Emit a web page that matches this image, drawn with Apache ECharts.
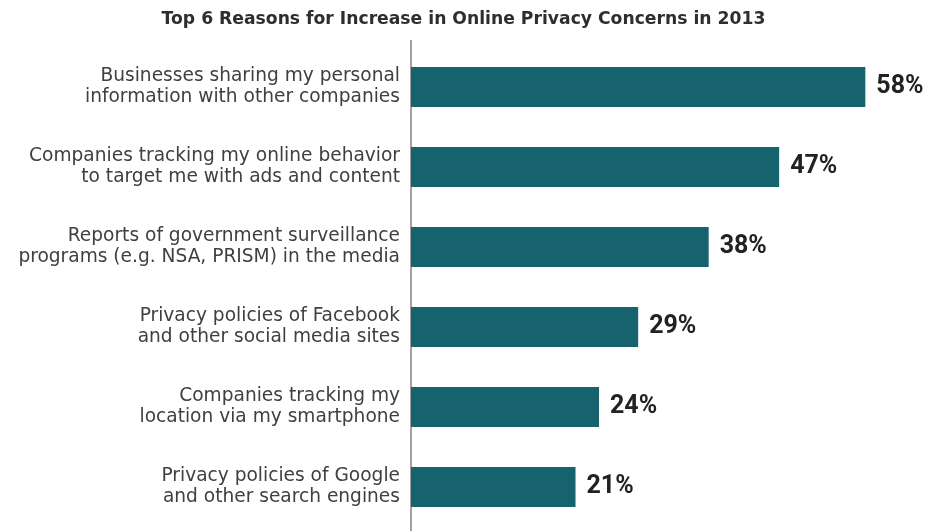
<!DOCTYPE html>
<html>
<head>
<meta charset="utf-8">
<script src="https://cdn.jsdelivr.net/npm/echarts@6/dist/echarts.min.js"></script>
<style>html,body{margin:0;padding:0;background:#fff}#c{width:927px;height:531px}</style>
</head>
<body>
<div id="c"></div>
<script>
var title = 'Top 6 Reasons for Increase in Online Privacy Concerns in 2013';
var categories = [
  'Businesses sharing my personal\ninformation with other companies',
  'Companies tracking my online behavior\nto target me with ads and content',
  'Reports of government surveillance\nprograms (e.g. NSA, PRISM) in the media',
  'Privacy policies of Facebook\nand other social media sites',
  'Companies tracking my\nlocation via my smartphone',
  'Privacy policies of Google\nand other search engines'
];
var values = [58, 47, 38, 29, 24, 21];

var chart = echarts.init(document.getElementById('c'));
chart.setOption({
  animation: false,
  title: {
    text: title, left: 'center', top: 6,
    textStyle: {fontFamily: 'DejaVu Sans', fontWeight: 'bold', fontSize: 17.2, color: '#2e2e2e'}
  },
  grid: {left: 411, right: 46, top: 47, bottom: 4, containLabel: false},
  xAxis: {type: 'value', min: 0, max: 60, show: false},
  yAxis: {
    type: 'category', inverse: true, data: categories,
    axisLine: {show: false}, axisTick: {show: false},
    axisLabel: {
      margin: 11, fontFamily: 'DejaVu Sans', fontSize: 18.6, lineHeight: 21, color: '#404040', align: 'right'
    }
  },
  series: [{
    type: 'bar', data: values, barWidth: 40,
    itemStyle: {color: '#16626e'},
    label: {
      show: true, position: 'right', distance: 11, formatter: '{c}%',
      fontFamily: 'Roboto', fontWeight: 'bold', fontSize: 25, color: '#222'
    }
  }],
  graphic: [{
    type: 'line', shape: {x1: 411, y1: 40, x2: 411, y2: 531},
    style: {stroke: '#a0a0a0', lineWidth: 2}
  }]
});
</script>
</body>
</html>
